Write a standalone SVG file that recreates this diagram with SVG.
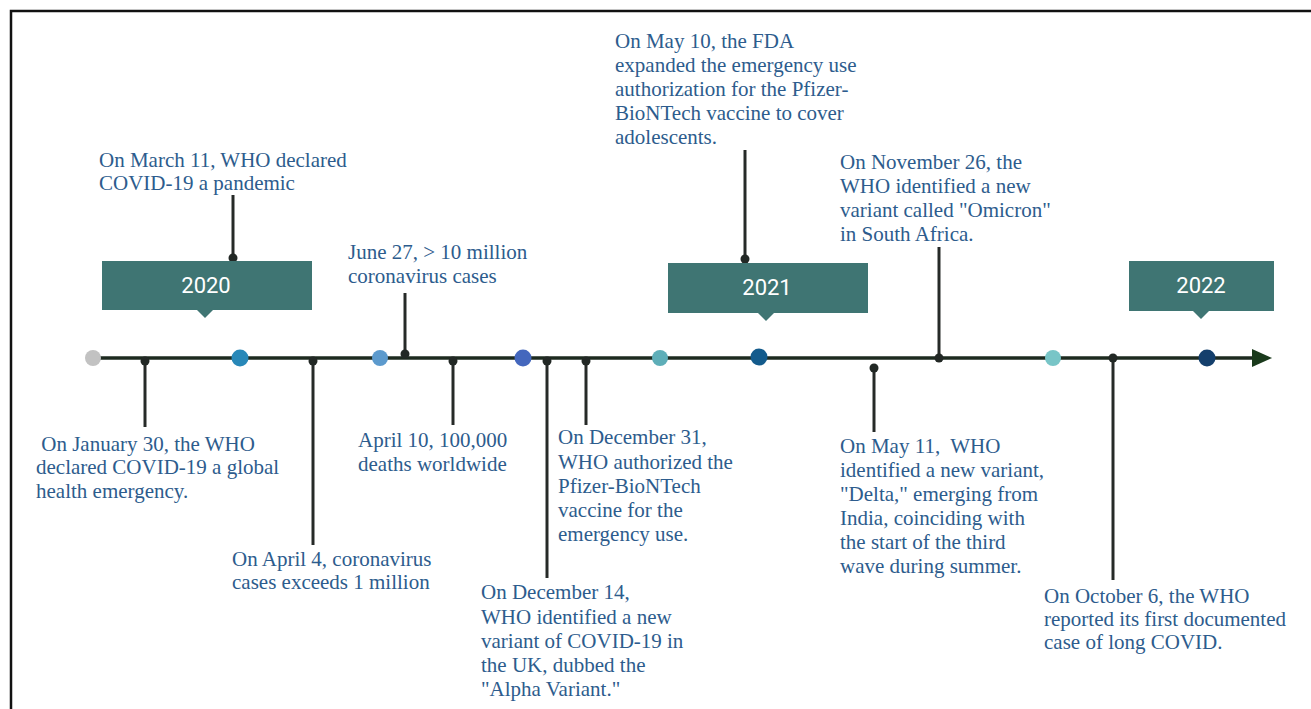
<svg xmlns="http://www.w3.org/2000/svg" width="1311" height="709" viewBox="0 0 1311 709">
<defs>
<style>
.ev{font-family:"Liberation Serif","Times New Roman",serif;font-size:21px;fill:#2d5c8d;}
.yr{font-family:Roboto,"Liberation Sans",sans-serif;font-size:22px;fill:#ffffff;text-anchor:middle;}
.box{fill:#3f7573;}
.tick{stroke:#262a28;stroke-width:3;fill:none;}
.jd{fill:#222825;}
.axis{stroke:#1d2a1f;stroke-width:3.5;fill:none;}
</style>
</defs>
<rect x="0" y="0" width="1311" height="709" fill="#ffffff"/>
<path d="M11,709 V11 H1311" fill="none" stroke="#111111" stroke-width="2.5"/>

<g id="connectors">
<line class="axis" x1="93" y1="358" x2="1253" y2="358"/>
<path d="M1252,349 L1272,358 L1252,367 Z" fill="#1a3a1c"/>
<line class="tick" x1="233" y1="195" x2="233" y2="258"/>
<line class="tick" x1="745" y1="150" x2="745" y2="259"/>
<line class="tick" x1="405" y1="293" x2="405" y2="355"/>
<line class="tick" x1="939" y1="247" x2="939" y2="358"/>
<line class="tick" x1="145" y1="358" x2="145" y2="427"/>
<line class="tick" x1="313" y1="358" x2="313" y2="545"/>
<line class="tick" x1="453" y1="358" x2="453" y2="425"/>
<line class="tick" x1="547" y1="358" x2="547" y2="578"/>
<line class="tick" x1="586" y1="358" x2="586" y2="425"/>
<line class="tick" x1="874" y1="368" x2="874" y2="432"/>
<line class="tick" x1="1113" y1="358" x2="1113" y2="580"/>
<circle class="jd" cx="233" cy="258" r="4.5"/>
<circle class="jd" cx="745" cy="259" r="4.5"/>
<circle class="jd" cx="405" cy="354" r="4.5"/>
<circle class="jd" cx="939" cy="358" r="4.5"/>
<circle class="jd" cx="145" cy="361" r="4.5"/>
<circle class="jd" cx="313" cy="361" r="4.5"/>
<circle class="jd" cx="453" cy="361" r="4.5"/>
<circle class="jd" cx="547" cy="361" r="4.5"/>
<circle class="jd" cx="586" cy="361" r="4.5"/>
<circle class="jd" cx="874" cy="368" r="4.5"/>
<circle class="jd" cx="1113" cy="358" r="4.5"/>
</g>

<g id="markers">
<circle cx="93" cy="358" r="8" fill="#c2c2c2"/>
<circle cx="240" cy="358" r="8.5" fill="#2888b8"/>
<circle cx="380" cy="358" r="8" fill="#5c9acd"/>
<circle cx="523" cy="358" r="8.5" fill="#4467bd"/>
<circle cx="660" cy="358" r="8" fill="#5eaeb8"/>
<circle cx="759" cy="357" r="8.5" fill="#135b8c"/>
<circle cx="1053" cy="358" r="8" fill="#78c5c7"/>
<circle cx="1207" cy="358" r="8.5" fill="#143f6c"/>
</g>

<g id="year-2020">
<rect class="box" x="102" y="261" width="210" height="49"/>
<path class="box" d="M197,310 L205,318 L213,310 Z"/>
<text class="yr" x="206" y="293">2020</text>
</g>
<g id="year-2021">
<rect class="box" x="668" y="263" width="200" height="50"/>
<path class="box" d="M758,313 L766,321 L774,313 Z"/>
<text class="yr" x="767" y="295">2021</text>
</g>
<g id="year-2022">
<rect class="box" x="1129" y="261" width="145" height="50"/>
<path class="box" d="M1193,311 L1201,319 L1209,311 Z"/>
<text class="yr" x="1201" y="293">2022</text>
</g>

<g id="ev-mar11">
<text class="ev" x="99" y="167">On March 11, WHO declared</text>
<text class="ev" x="99" y="190">COVID-19 a pandemic</text>
</g>
<g id="ev-jun27">
<text class="ev" x="348" y="259">June 27, &gt; 10 million</text>
<text class="ev" x="348" y="283">coronavirus cases</text>
</g>
<g id="ev-may10">
<text class="ev" x="615" y="48">On May 10, the FDA</text>
<text class="ev" x="615" y="72">expanded the emergency use</text>
<text class="ev" x="615" y="96">authorization for the Pfizer-</text>
<text class="ev" x="615" y="120">BioNTech vaccine to cover</text>
<text class="ev" x="615" y="144">adolescents.</text>
</g>
<g id="ev-nov26">
<text class="ev" x="840" y="169">On November 26, the</text>
<text class="ev" x="840" y="193">WHO identified a new</text>
<text class="ev" x="840" y="217">variant called "Omicron"</text>
<text class="ev" x="840" y="241">in South Africa.</text>
</g>
<g id="ev-jan30">
<text class="ev" x="36" y="451" xml:space="preserve"> On January 30, the WHO</text>
<text class="ev" x="36" y="474">declared COVID-19 a global</text>
<text class="ev" x="36" y="498">health emergency.</text>
</g>
<g id="ev-apr4">
<text class="ev" x="232" y="566">On April 4, coronavirus</text>
<text class="ev" x="232" y="589">cases exceeds 1 million</text>
</g>
<g id="ev-apr10">
<text class="ev" x="358" y="447">April 10, 100,000</text>
<text class="ev" x="358" y="471">deaths worldwide</text>
</g>
<g id="ev-dec31">
<text class="ev" x="558" y="444">On December 31,</text>
<text class="ev" x="558" y="469">WHO authorized the</text>
<text class="ev" x="558" y="493">Pfizer-BioNTech</text>
<text class="ev" x="558" y="517">vaccine for the</text>
<text class="ev" x="558" y="541">emergency use.</text>
</g>
<g id="ev-dec14">
<text class="ev" x="481" y="599">On December 14,</text>
<text class="ev" x="481" y="624">WHO identified a new</text>
<text class="ev" x="481" y="648">variant of COVID-19 in</text>
<text class="ev" x="481" y="672">the UK, dubbed the</text>
<text class="ev" x="481" y="696">"Alpha Variant."</text>
</g>
<g id="ev-may11">
<text class="ev" x="840" y="453" xml:space="preserve">On May 11,  WHO</text>
<text class="ev" x="840" y="477">identified a new variant,</text>
<text class="ev" x="840" y="501">"Delta," emerging from</text>
<text class="ev" x="840" y="525">India, coinciding with</text>
<text class="ev" x="840" y="549">the start of the third</text>
<text class="ev" x="840" y="573">wave during summer.</text>
</g>
<g id="ev-oct6">
<text class="ev" x="1044" y="603">On October 6, the WHO</text>
<text class="ev" x="1044" y="626">reported its first documented</text>
<text class="ev" x="1044" y="649">case of long COVID.</text>
</g>
</svg>
